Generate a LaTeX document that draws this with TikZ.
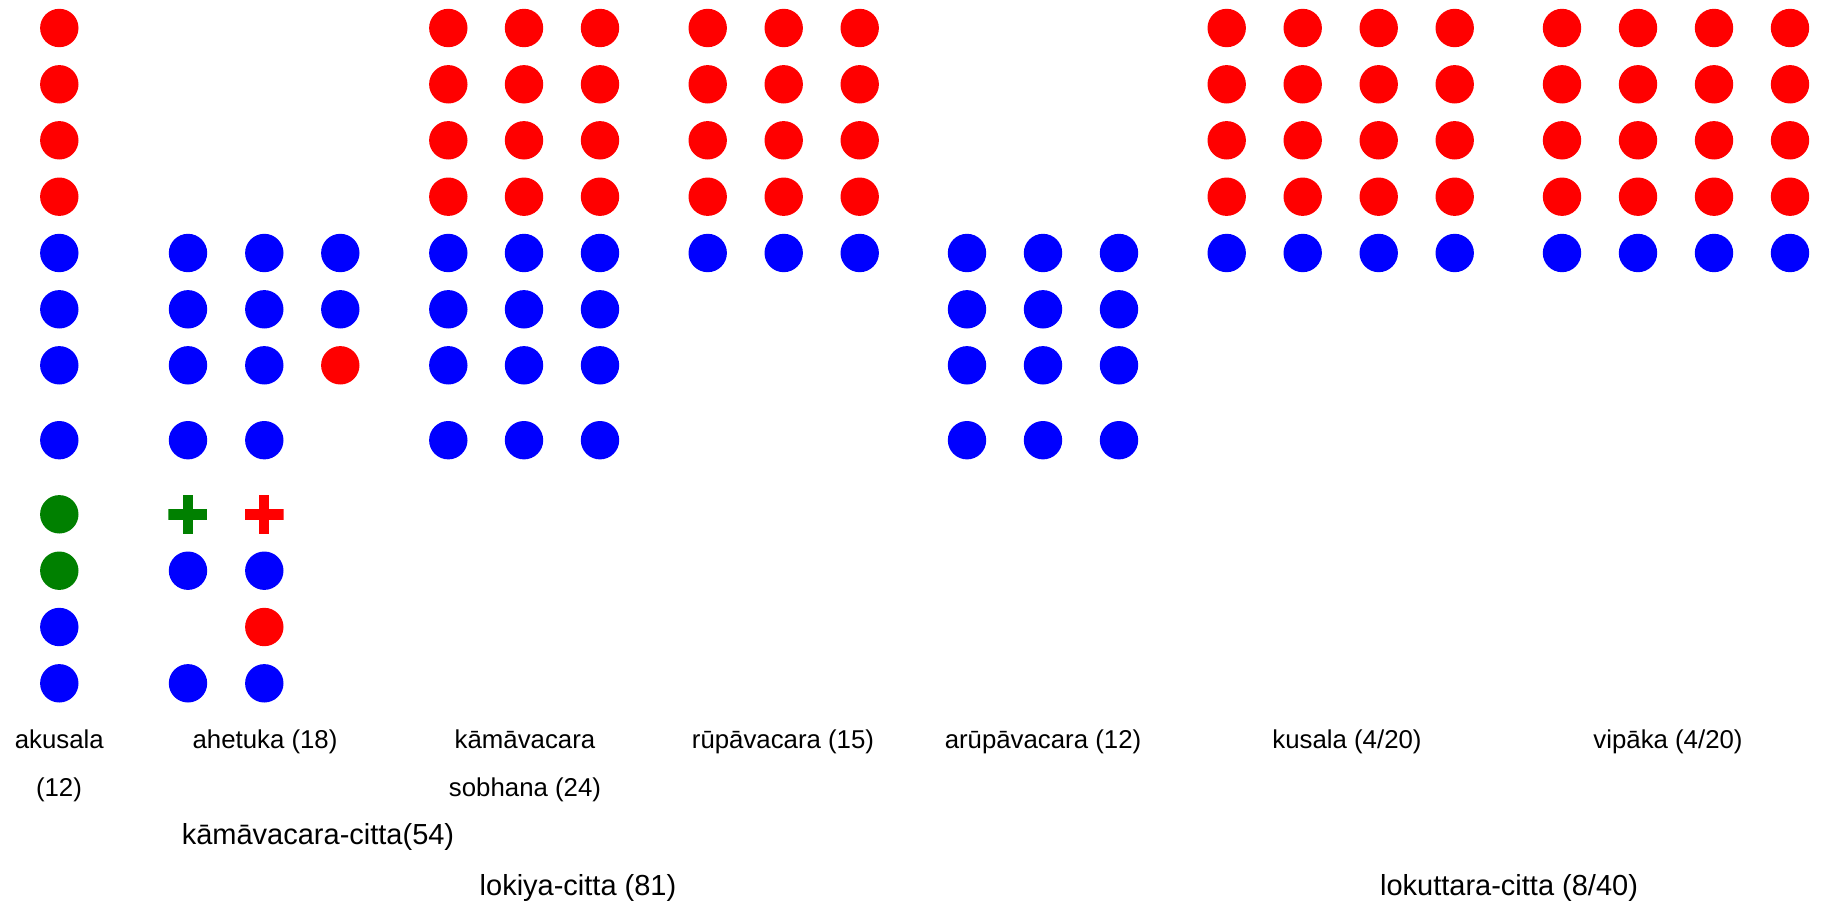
\documentclass[tikz,border=0pt]{standalone}
\usepackage{fontspec}
\setmainfont{Liberation Sans}
\definecolor{dred}{RGB}{255,0,0}
\definecolor{dblue}{RGB}{0,0,255}
\definecolor{dgreen}{RGB}{0,128,0}
\begin{document}
\begin{tikzpicture}[x=1pt,y=-1pt,
  dot/.style={circle,fill=#1,draw=none,inner sep=0pt,minimum size=38.4pt},
  plusmark/.style={rectangle,draw=none,inner sep=0pt,minimum size=38.7pt,
    path picture={
      \fill[#1] ([xshift=-5.15pt]path picture bounding box.north) rectangle ([xshift=5.15pt]path picture bounding box.south);
      \fill[#1] ([yshift=5.15pt]path picture bounding box.west) rectangle ([yshift=-5.15pt]path picture bounding box.east);}},
  lbl/.style={font=\fontsize{25.8}{30}\selectfont,anchor=base,inner sep=0pt},
  biglbl/.style={font=\fontsize{29}{34}\selectfont,anchor=base,inner sep=0pt}]
\useasboundingbox (0,0) rectangle (1823,902);

% akusala (12)
\foreach \y [count=\i] in {28,84.3,140.3,196.7}
  \node[dot=dred] (ak-r\i) at (59.3,\y) {};
\foreach \y [count=\i] in {253,309.3,365.3,440.2}
  \node[dot=dblue] (ak-b\i) at (59.3,\y) {};
\foreach \y [count=\i] in {514.3,570.7}
  \node[dot=dgreen] (ak-g\i) at (59.3,\y) {};
\foreach \y [count=\i] in {627,683.3}
  \node[dot=dblue] (ak-c\i) at (59.3,\y) {};

% ahetuka (18)
\foreach \x [count=\j] in {188,264.3,340.3}{
  \node[dot=dblue] (ah-1-\j) at (\x,253) {};
  \node[dot=dblue] (ah-2-\j) at (\x,309.3) {};
}
\node[dot=dblue] (ah-3-1) at (188,365.3) {};
\node[dot=dblue] (ah-3-2) at (264.3,365.3) {};
\node[dot=dred]  (ah-3-3) at (340.3,365.3) {};
\node[dot=dblue] (ah-4-1) at (188,440.2) {};
\node[dot=dblue] (ah-4-2) at (264.3,440.2) {};
\node[plusmark=dgreen] (ah-5-1) at (187.7,514.5) {};
\node[plusmark=dred]   (ah-5-2) at (264.3,514.5) {};
\node[dot=dblue] (ah-6-1) at (188,570.7) {};
\node[dot=dblue] (ah-6-2) at (264.3,570.7) {};
\node[dot=dred]  (ah-7-2) at (264.3,627) {};
\node[dot=dblue] (ah-8-1) at (188,683.3) {};
\node[dot=dblue] (ah-8-2) at (264.3,683.3) {};

% kamavacara sobhana (24)
\foreach \x [count=\j] in {448.3,524,600}{
  \foreach \y [count=\i] in {28,84.3,140.3,196.7}
    \node[dot=dred] (ks-r\i-\j) at (\x,\y) {};
  \foreach \y [count=\i] in {253,309.3,365.3,440.2}
    \node[dot=dblue] (ks-b\i-\j) at (\x,\y) {};
}

% rupavacara (15)
\foreach \x [count=\j] in {707.7,783.7,859.7}{
  \foreach \y [count=\i] in {28,84.3,140.3,196.7}
    \node[dot=dred] (rp-r\i-\j) at (\x,\y) {};
  \node[dot=dblue] (rp-b-\j) at (\x,253) {};
}

% arupavacara (12)
\foreach \x [count=\j] in {967,1043,1119}{
  \foreach \y [count=\i] in {253,309.3,365.3,440.2}
    \node[dot=dblue] (ar-b\i-\j) at (\x,\y) {};
}

% kusala (4/20)
\foreach \x [count=\j] in {1226.7,1302.7,1378.7,1454.7}{
  \foreach \y [count=\i] in {28,84.3,140.3,196.7}
    \node[dot=dred] (ku-r\i-\j) at (\x,\y) {};
  \node[dot=dblue] (ku-b-\j) at (\x,253) {};
}

% vipaka (4/20)
\foreach \x [count=\j] in {1562,1638,1714,1790}{
  \foreach \y [count=\i] in {28,84.3,140.3,196.7}
    \node[dot=dred] (vp-r\i-\j) at (\x,\y) {};
  \node[dot=dblue] (vp-b-\j) at (\x,253) {};
}

% labels
\node[lbl] (l-ak)    at (59.3,748.5) {akusala};
\node[lbl] (l-ak2)   at (59,796) {(12)};
\node[lbl] (l-ahe)   at (265,748.5) {ahetuka (18)};
\node[lbl] (l-ks1)   at (525,748.5) {kāmāvacara};
\node[lbl] (l-ks2)   at (525,796) {sobhana (24)};
\node[biglbl] (l-kc) at (318,844) {kāmāvacara-citta(54)};
\node[biglbl] (l-lok) at (578,895) {lokiya-citta (81)};
\node[lbl] (l-rupa)  at (783,748.5) {rūpāvacara (15)};
\node[lbl] (l-arupa) at (1043,748.5) {arūpāvacara (12)};
\node[lbl] (l-kus)   at (1347,748.5) {kusala (4/20)};
\node[lbl] (l-vip)   at (1668,748.5) {vipāka (4/20)};
\node[biglbl] (l-lku) at (1509,895) {lokuttara-citta (8/40)};
\end{tikzpicture}
\end{document}
